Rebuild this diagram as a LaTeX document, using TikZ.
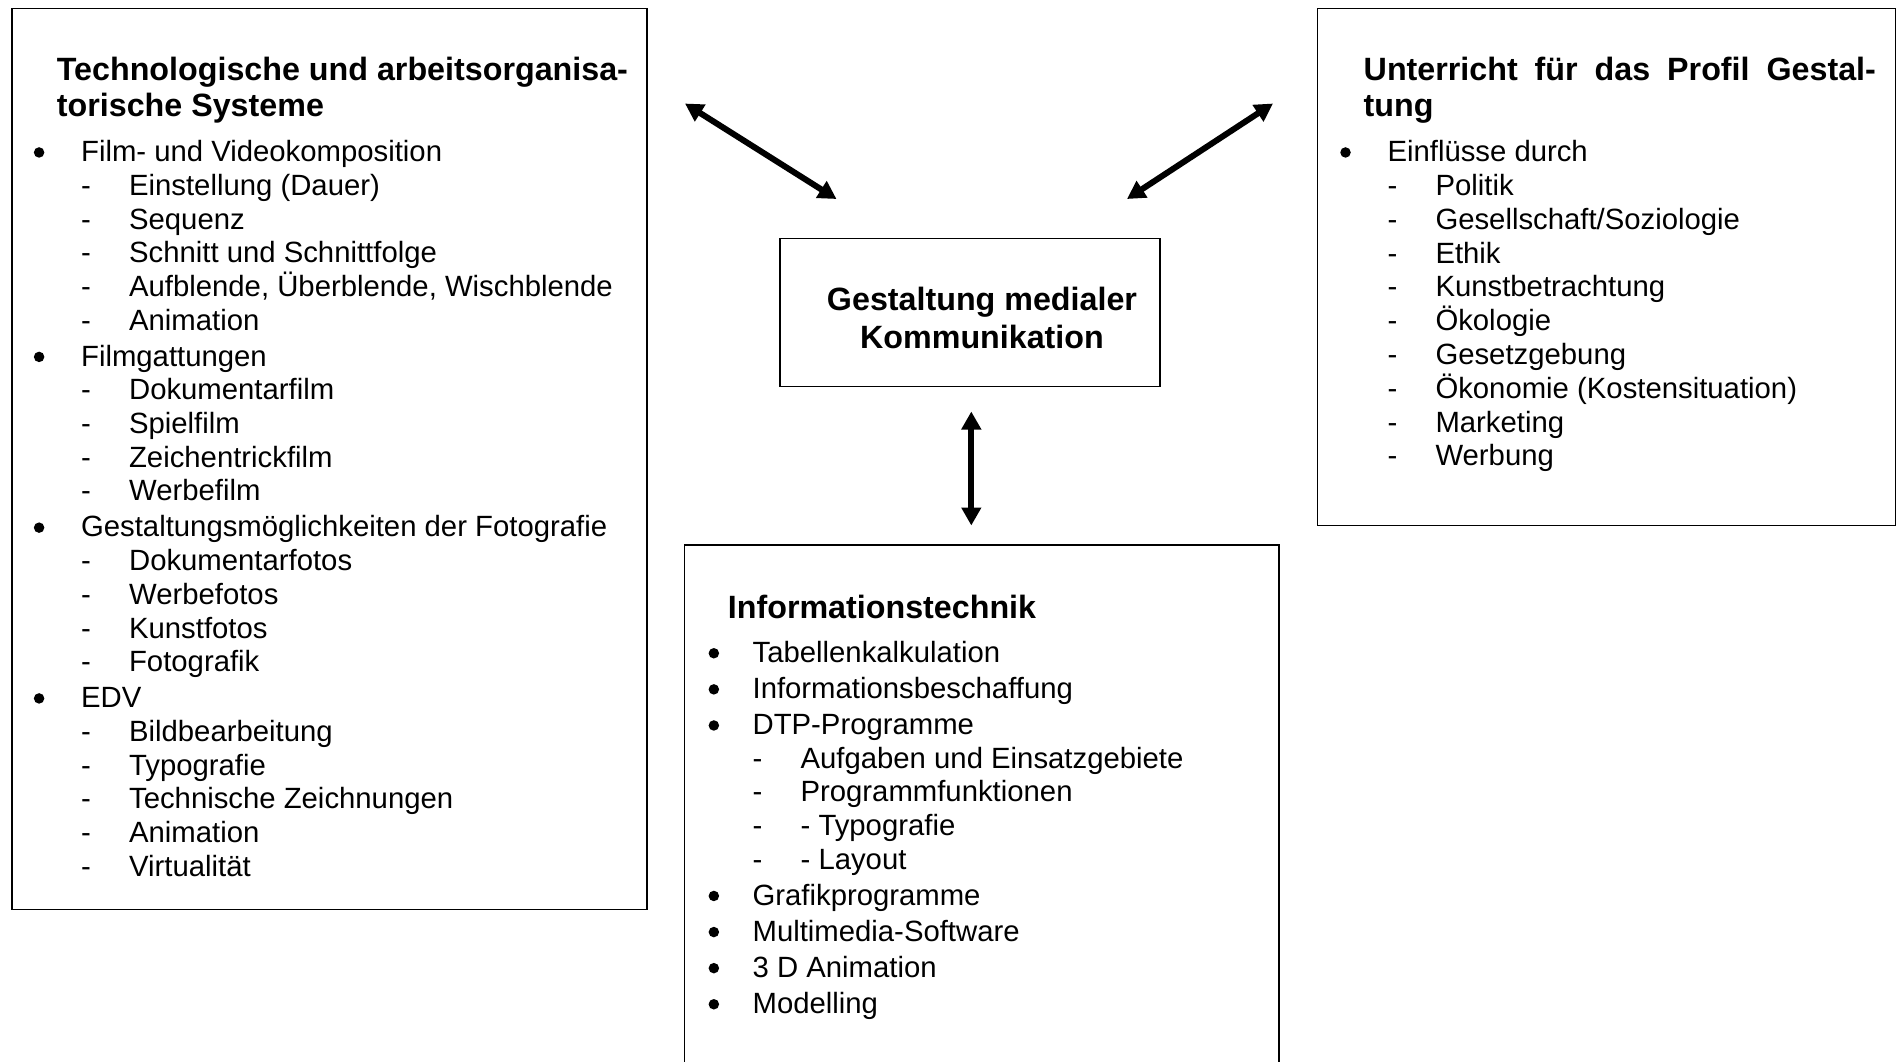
\documentclass[tikz,border=0pt]{standalone}
\usepackage{fontspec}
\setmainfont{Liberation Sans}
\usetikzlibrary{arrows.meta}

% list helpers: bullet lines, dash sub-lines and the extra gap before a bullet line
\newlength\bulgap
\newlength\bulextra
\setlength\bulgap{14.7pt}
\newcommand\bul{\tikz[baseline=0pt]\fill[black] (0,3.7pt) circle[radius=2.1pt];}
\newcommand\itm[1]{\hbox{\llap{\bul\hspace{\bulgap}}#1}}
\newcommand\subitm[1]{\hbox{\makebox[19.2pt][l]{-}#1}}
\newcommand\gapb{\vskip\bulextra}
\newcommand\listsetup{\baselineskip=13.48pt\lineskiplimit=-100pt\lineskip=0pt}

\tikzset{
  box/.style={draw=black, line width=0.55pt, inner sep=0pt, outer sep=0pt, anchor=north west},
  body/.style={font=\fontsize{11.72pt}{13.48pt}\selectfont, inner sep=0pt, outer sep=0pt, anchor=base west},
  head/.style={font=\fontsize{12.9pt}{14.56pt}\selectfont\bfseries, inner sep=0pt, outer sep=0pt, anchor=base west},
  link/.style={line width=2.4pt, {Triangle[length=7.2pt,width=7.6pt]}-{Triangle[length=7.2pt,width=7.6pt]}}
}

\begin{document}
\begin{tikzpicture}[x=0.4pt, y=-0.4pt]
  \useasboundingbox (0,0) rectangle (1899,1061);
  \fill[white] (0,0) rectangle (1899,1061);
  \clip (0,0) rectangle (1899,1061);

  % frames
  \node[box, minimum width=254pt, minimum height=360.4pt] (leftbox) at (12,8.5) {};
  \node[box, minimum width=152pt, minimum height=59.1pt] (midbox) at (780,238.6) {};
  \node[box, minimum width=231.1pt, minimum height=206.8pt] (rightbox) at (1317.7,8.5) {};
  \node[box, minimum width=237.8pt, minimum height=216pt] (botbox) at (684.3,545) {};

  % centre
  \node[head, anchor=base] (midtext) at (982,310.6)
    {\vtop{\baselineskip=15pt\hbox to 0pt{\hss Gestaltung medialer\hss}\hbox to 0pt{\hss Kommunikation\hss}}};

  % left column
  \node[head] (lefthead) at (56.9,80.5)
    {\vtop{\hbox{Technologische und arbeitsorganisa-}\hbox{torische Systeme}}};
  \node[body] (leftlist) at (81.1,161.7) {\setlength\bulextra{0.9pt}%
    \vtop{\listsetup
      \itm{Film- und Videokomposition}
      \subitm{Einstellung (Dauer)}
      \subitm{Sequenz}
      \subitm{Schnitt und Schnittfolge}
      \subitm{Aufblende, Überblende, Wischblende}
      \subitm{Animation}
      \gapb\itm{Filmgattungen}
      \subitm{Dokumentarfilm}
      \subitm{Spielfilm}
      \subitm{Zeichentrickfilm}
      \subitm{Werbefilm}
      \gapb\itm{Gestaltungsmöglichkeiten der Fotografie}
      \subitm{Dokumentarfotos}
      \subitm{Werbefotos}
      \subitm{Kunstfotos}
      \subitm{Fotografik}
      \gapb\itm{EDV}
      \subitm{Bildbearbeitung}
      \subitm{Typografie}
      \subitm{Technische Zeichnungen}
      \subitm{Animation}
      \subitm{Virtualität}}};

  % right column
  \node[head] (righthead) at (1363.7,80.5)
    {\vtop{\hbox{\makebox[204.9pt][s]{Unterricht\hfill für\hfill das\hfill Profil\hfill Gestal-}}\hbox{tung}}};
  \node[body] (rightlist) at (1387.5,161.7) {%
    \vtop{\listsetup\baselineskip=13.52pt
      \itm{Einflüsse durch}
      \subitm{Politik}
      \subitm{Gesellschaft/Soziologie}
      \subitm{Ethik}
      \subitm{Kunstbetrachtung}
      \subitm{Ökologie}
      \subitm{Gesetzgebung}
      \subitm{Ökonomie (Kostensituation)}
      \subitm{Marketing}
      \subitm{Werbung}}};

  % bottom column
  \node[head] (bothead) at (727.9,618.3) {Informationstechnik};
  \node[body] (botlist) at (752.6,662.5) {\setlength\bulextra{1.0pt}\setlength\bulgap{13.4pt}%
    \vtop{\listsetup\baselineskip=13.44pt
      \itm{Tabellenkalkulation}
      \gapb\itm{Informationsbeschaffung}
      \gapb\itm{DTP-Programme}
      \subitm{Aufgaben und Einsatzgebiete}
      \subitm{Programmfunktionen}
      \subitm{- Typografie}
      \subitm{- Layout}
      \gapb\itm{Grafikprogramme}
      \gapb\itm{Multimedia-Software}
      \gapb\itm{3 D Animation}
      \gapb\itm{Modelling}}};

  % connectors
  \coordinate (la) at (685,103.5);
  \coordinate (lb) at (836.5,199);
  \coordinate (ra) at (1273,103.5);
  \coordinate (rb) at (1127,199);
  \coordinate (va) at (971.3,411.5);
  \coordinate (vb) at (971.3,525.5);
  \draw[link] (la) -- (lb);
  \draw[link] (ra) -- (rb);
  \draw[link] (va) -- (vb);
\end{tikzpicture}
\end{document}
